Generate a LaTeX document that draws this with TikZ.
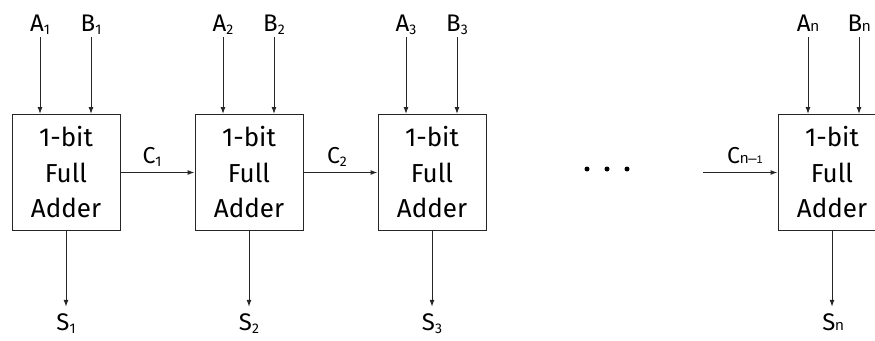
\documentclass[tikz,border=0pt]{standalone}
\usepackage{fontspec}
\setmainfont{Fira Sans}
\newfontfamily\subfont{Liberation Sans}
\usetikzlibrary{arrows.meta}
\newcommand{\sbd}[1]{\raisebox{-3pt}{\fontsize{14}{14}\selectfont #1}}
\newcommand{\sbn}[1]{{\subfont\fontsize{15}{15}\selectfont #1}}
\begin{document}
\begin{tikzpicture}[x=1pt,y=-1pt,
  fa/.style={draw=black!85, line width=1pt, minimum width=108pt, minimum height=116pt, inner sep=0pt, align=center, font=\fontsize{26}{35.5}\selectfont},
  lbl/.style={inner sep=1pt, text height=17pt, text depth=5pt, font=\fontsize{24}{28}\selectfont, anchor=base},
  clbl/.style={inner sep=0pt, font=\fontsize{23}{26}\selectfont, anchor=base},
  arr/.style={draw=black!85, line width=1pt, -{Latex[length=7pt,width=5pt]}},
  sarr/.style={arr, shorten >=5pt},
  dotn/.style={circle, fill=black, inner sep=0pt, minimum size=5pt}]
\useasboundingbox (0,0) rectangle (875,340);
\clip (0,0) rectangle (875,340);
% boxes
\node[fa] (f1) at (66,172.5) {1-bit\\Full\\Adder};
\node[fa] (f2) at (249,172.5) {1-bit\\Full\\Adder};
\node[fa] (f3) at (432,172.5) {1-bit\\Full\\Adder};
\node[fa] (fn) at (832,172.5) {1-bit\\Full\\Adder};
% inputs
\node[lbl] (a1) at (40,31) {A\sbd{1}};
\node[lbl] (b1) at (91,31) {B\sbd{1}};
\node[lbl] (a2) at (223,31) {A\sbd{2}};
\node[lbl] (b2) at (274,31) {B\sbd{2}};
\node[lbl] (a3) at (406,31) {A\sbd{3}};
\node[lbl] (b3) at (457,31) {B\sbd{3}};
\node[lbl] (an) at (808,31) {A\sbn{n}};
\node[lbl] (bn) at (859,31) {B\sbn{n}};
\foreach \l/\b in {a1/f1,b1/f1,a2/f2,b2/f2,a3/f3,b3/f3,an/fn,bn/fn}
  \draw[arr] (\l.south) -- (\l.south |- \b.north);
% sums
\node[lbl] (s1) at (66,330) {S\sbd{1}};
\node[lbl] (s2) at (249,330) {S\sbd{2}};
\node[lbl] (s3) at (432,330) {S\sbd{3}};
\node[lbl] (sn) at (833,330) {S\sbn{n}};
\foreach \b/\s in {f1/s1,f2/s2,f3/s3,fn/sn}
  \draw[sarr] (\b.south) -- (\b.south |- \s.north);
% carries
\node[clbl] (c1) at (152,163) {C\sbd{1}};
\node[clbl] (c2) at (337,163) {C\sbd{2}};
\node[clbl] (cn) at (745,163) {C\sbn{n–{\fontsize{11}{11}\selectfont 1}}};
\draw[arr] (f1.east) -- (f2.west);
\draw[arr] (f2.east) -- (f3.west);
\coordinate (cin) at (703,172.5);
\draw[arr] (cin) -- (fn.west);
% dots
\node[dotn] (d1) at (587,169) {};
\node[dotn] (d2) at (607,169) {};
\node[dotn] (d3) at (627,169) {};
\end{tikzpicture}
\end{document}
